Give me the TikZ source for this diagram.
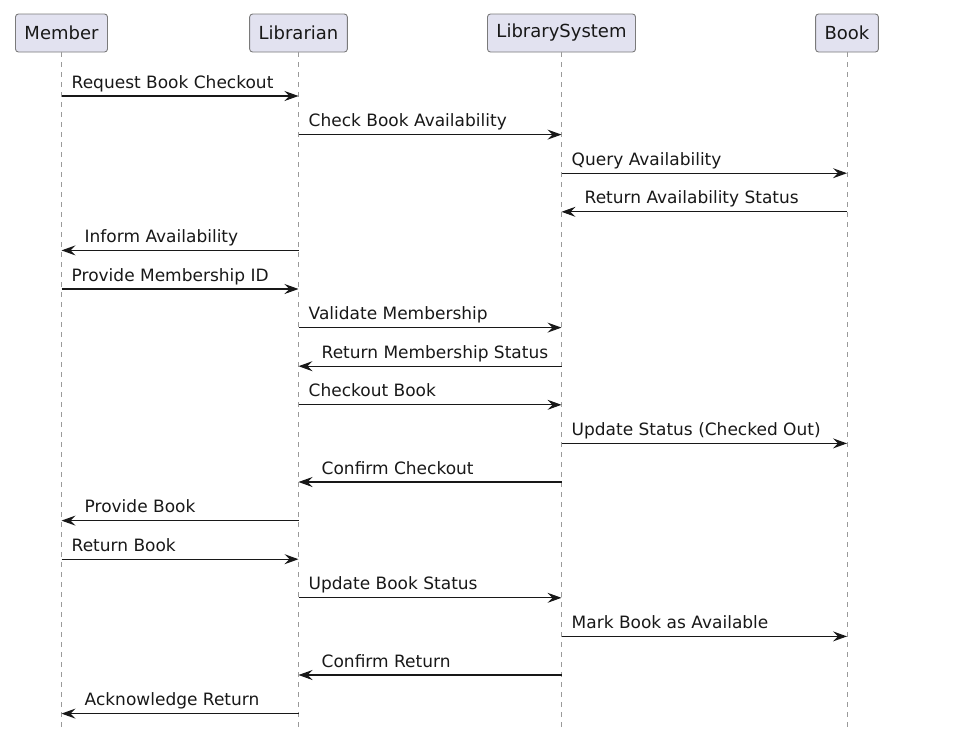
\documentclass[tikz,border=0pt]{standalone}
\usepackage{fontspec}
\setmainfont{DejaVu Sans}
\usetikzlibrary{arrows.meta}
\definecolor{pfill}{HTML}{E2E2F0}
\definecolor{pborder}{HTML}{7A7A7A}
\definecolor{ink}{HTML}{181818}
\definecolor{lifegray}{HTML}{9A9A9A}
\tikzset{
  participant/.style={draw=pborder, fill=pfill, line width=0.9pt, rounded corners=3pt,
    minimum height=38pt, inner xsep=9pt, inner ysep=0pt, text=ink,
    font=\fontsize{18}{22}\selectfont},
  lifeline/.style={draw=lifegray, line width=0.8pt, dash pattern=on 5pt off 5pt},
  msg/.style={draw=ink, line width=1.1pt, -{Stealth[length=14pt,width=10pt,inset=5pt]}},
  lbl/.style={anchor=base west, inner sep=0pt, text=ink, font=\fontsize{17}{20}\selectfont}
}
\begin{document}
\begin{tikzpicture}[x=1pt,y=-1pt]
\useasboundingbox (0,0) rectangle (975,732);
\node[participant] (m) at (61.5,33) {Member};
\node[participant] (l) at (298.5,33) {Librarian};
\node[participant] (s) at (561.5,33) {LibrarySystem};
\node[participant] (b) at (847,33) {Book};
\coordinate (bottom) at (0,730);
\foreach \p in {m,l,s,b} { \draw[lifeline] (\p.south) -- (\p |- bottom); }
% rows
\coordinate (r1) at (0,96);
\coordinate (r2) at (0,134.6);
\coordinate (r3) at (0,173.2);
\coordinate (r4) at (0,211.8);
\coordinate (r5) at (0,250.4);
\coordinate (r6) at (0,289);
\coordinate (r7) at (0,327.6);
\coordinate (r8) at (0,366.2);
\coordinate (r9) at (0,404.8);
\coordinate (r10) at (0,443.4);
\coordinate (r11) at (0,482);
\coordinate (r12) at (0,520.6);
\coordinate (r13) at (0,559.2);
\coordinate (r14) at (0,597.8);
\coordinate (r15) at (0,636.4);
\coordinate (r16) at (0,675);
\coordinate (r17) at (0,713.6);
% right-going: label at from +10 ; left-going: label at to +23
\draw[msg] (m |- r1) -- (l |- r1);  \path (m |- r1) ++(10,-8) node[lbl] {Request Book Checkout};
\draw[msg] (l |- r2) -- (s |- r2);  \path (l |- r2) ++(10,-8) node[lbl] {Check Book Availability};
\draw[msg] (s |- r3) -- (b |- r3);  \path (s |- r3) ++(10,-8) node[lbl] {Query Availability};
\draw[msg] (b |- r4) -- (s |- r4);  \path (s |- r4) ++(23,-8) node[lbl] {Return Availability Status};
\draw[msg] (l |- r5) -- (m |- r5);  \path (m |- r5) ++(23,-8) node[lbl] {Inform Availability};
\draw[msg] (m |- r6) -- (l |- r6);  \path (m |- r6) ++(10,-8) node[lbl] {Provide Membership ID};
\draw[msg] (l |- r7) -- (s |- r7);  \path (l |- r7) ++(10,-8) node[lbl] {Validate Membership};
\draw[msg] (s |- r8) -- (l |- r8);  \path (l |- r8) ++(23,-8) node[lbl] {Return Membership Status};
\draw[msg] (l |- r9) -- (s |- r9);  \path (l |- r9) ++(10,-8) node[lbl] {Checkout Book};
\draw[msg] (s |- r10) -- (b |- r10); \path (s |- r10) ++(10,-8) node[lbl] {Update Status (Checked Out)};
\draw[msg] (s |- r11) -- (l |- r11); \path (l |- r11) ++(23,-8) node[lbl] {Confirm Checkout};
\draw[msg] (l |- r12) -- (m |- r12); \path (m |- r12) ++(23,-8) node[lbl] {Provide Book};
\draw[msg] (m |- r13) -- (l |- r13); \path (m |- r13) ++(10,-8) node[lbl] {Return Book};
\draw[msg] (l |- r14) -- (s |- r14); \path (l |- r14) ++(10,-8) node[lbl] {Update Book Status};
\draw[msg] (s |- r15) -- (b |- r15); \path (s |- r15) ++(10,-8) node[lbl] {Mark Book as Available};
\draw[msg] (s |- r16) -- (l |- r16); \path (l |- r16) ++(23,-8) node[lbl] {Confirm Return};
\draw[msg] (l |- r17) -- (m |- r17); \path (m |- r17) ++(23,-8) node[lbl] {Acknowledge Return};
\end{tikzpicture}
\end{document}
